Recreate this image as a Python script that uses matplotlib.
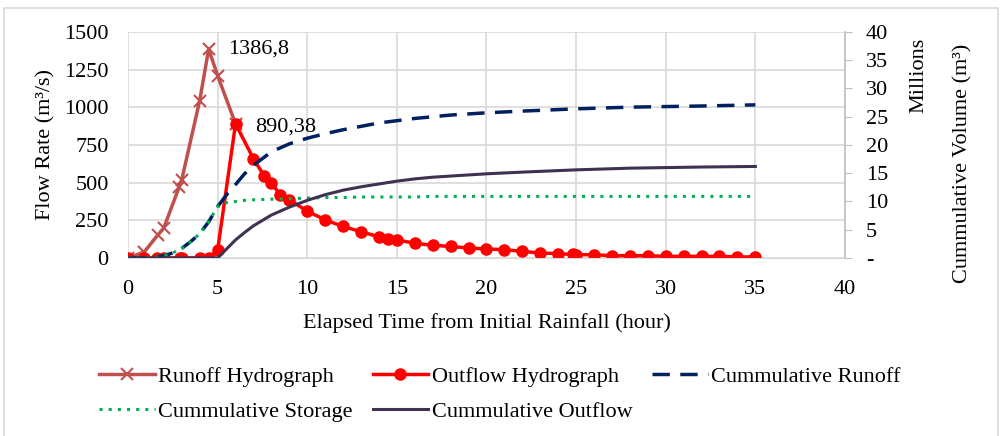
import matplotlib
matplotlib.use("Agg")
import matplotlib.pyplot as plt
from matplotlib.patches import Rectangle

plt.rcParams['font.family'] = ['Liberation Serif', 'DejaVu Serif']

# runoff hydrograph (m3/s)
run_t = [0, 0.9, 1.65, 2.0, 2.85, 3.0, 4.0, 4.5, 5.0, 6.0]
run_q = [0, 40, 150, 200, 470, 520, 1045, 1386.8, 1210, 890.38]

# outflow hydrograph (m3/s)
out_t = [0, 0.9, 1.6, 2.0, 2.9, 3.0, 4.0, 4.5, 5.0, 6.0, 7.0, 7.6, 8.0, 8.5, 9.0,
         10, 11, 12, 13, 14, 14.5, 15, 16, 17, 18, 19, 20, 21, 22, 23, 24, 24.8, 25,
         26, 27, 28, 29, 30, 31, 32, 33, 34, 35]
out_q = [0, 0, 0, 0, 0, 0, 0, 0, 53, 890.38, 658, 545, 497, 419, 386,
         311, 253, 209, 175, 140, 128, 120, 98, 84, 77, 66, 60, 55, 44, 33, 29, 24, 22,
         22, 15, 15, 15, 11, 11, 11, 11, 7, 7]

# cumulative volumes (millions m3)
cum_t = [0, 1, 1.5, 2, 2.5, 3, 3.5, 4, 4.5, 5, 5.5, 6, 6.5, 7, 8, 9, 10, 11, 12, 13,
         14, 15, 16, 17, 18, 19, 20, 22, 25, 28, 30, 32, 35]
cum_runoff = [0, 0, 0.1, 0.4, 0.9, 1.7, 2.9, 4.3, 6.4, 9.1, 11.2, 13.0, 14.9, 16.4,
              18.8, 20.2, 21.2, 22.0, 22.7, 23.3, 23.9, 24.3, 24.7, 25.0, 25.3, 25.5,
              25.7, 26.0, 26.4, 26.7, 26.8, 26.9, 27.1]
cum_storage = [0, 0, 0.1, 0.4, 0.9, 1.7, 2.9, 4.3, 6.4, 9.1, 9.8, 10.0, 10.2, 10.3,
               10.4, 10.5, 10.6, 10.7, 10.7, 10.8, 10.8, 10.8, 10.8, 10.9, 10.9, 10.9,
               10.9, 10.9, 10.9, 10.9, 10.9, 10.9, 10.9]
cum_outflow = [0, 0, 0, 0, 0, 0, 0, 0, 0, 0, 1.6, 3.2, 4.5, 5.7, 7.6, 9.0, 10.2, 11.2,
               12.0, 12.6, 13.1, 13.6, 14.0, 14.3, 14.5, 14.7, 14.9, 15.2, 15.6, 15.9,
               16.0, 16.1, 16.2]

fig = plt.figure(figsize=(10.04, 4.36), dpi=100)
ax = fig.add_axes([0.1275, 0.4083, 0.7141, 0.5183])
ax2 = ax.twinx()

grid_col = "#d9d9d9"
fs = 16

h1, = ax.plot(run_t, run_q, color="#c0504d", lw=2.5, marker="x", ms=8, mew=1.5,
              label="Runoff Hydrograph")
h2, = ax.plot(out_t, out_q, color="#ff0000", lw=2.5, marker="o", ms=8,
              label="Outflow Hydrograph")
h3, = ax2.plot(cum_t, cum_runoff, color="#002060", lw=2.5, ls=(0, (5, 3)),
               label="Cummulative Runoff")
h4, = ax2.plot(cum_t, cum_storage, color="#00b050", lw=2.2, ls=(0, (1, 2)),
               label="Cummulative Storage")
h5, = ax2.plot(cum_t, cum_outflow, color="#3f3151", lw=2.2,
               label="Cummulative Outflow")

ax.annotate("1386,8", xy=(4.5, 1386.8), xytext=(14, 0), textcoords="offset points",
            ha="left", va="center", fontsize=fs)
ax.annotate("890,38", xy=(6.0, 890.38), xytext=(14, -2), textcoords="offset points",
            ha="left", va="center", fontsize=fs)

ax.set_xlim(0, 40)
ax.set_ylim(0, 1500)
ax.set_xticks(range(0, 41, 5))
ax.set_yticks(range(0, 1501, 250))
ax2.set_ylim(0, 40)
ax2.set_yticks(range(0, 41, 5))
ax2.set_yticklabels(["-"] + [str(v) for v in range(5, 41, 5)])

ax.grid(True, color=grid_col, lw=1.2)
ax.set_axisbelow(True)
for s in ["top", "left", "right"]:
    ax.spines[s].set_visible(False)
    ax2.spines[s].set_visible(False)
ax.spines["bottom"].set_color(grid_col)
ax2.spines["bottom"].set_visible(False)
ax2.spines["right"].set_visible(True)
ax2.spines["right"].set_color("#bfbfbf")
ax2.spines["right"].set_linewidth(1.2)

ax.tick_params(axis="both", length=0, labelsize=fs)
ax.tick_params(axis="x", pad=16)
ax.tick_params(axis="y", pad=14)
ax2.tick_params(axis="y", direction="out", length=5, color="#bfbfbf",
                labelsize=fs, pad=10)

ax.set_xlabel("Elapsed Time from Initial Rainfall (hour)", fontsize=fs, labelpad=10)
ax.set_ylabel("Flow Rate (m³/s)", fontsize=fs, labelpad=6)
fig.text(0.915, 0.828, "Millions", rotation=90, ha="center", va="center", fontsize=fs)
fig.text(0.959, 0.626, "Cummulative Volume (m³)", rotation=90, ha="center",
         va="center", fontsize=fs)

handles = [h1, h4, h2, h5, h3]
fig.legend(handles, [h.get_label() for h in handles], loc="center",
           bbox_to_anchor=(0.498, 0.096), ncol=3, frameon=False, fontsize=fs,
           handlelength=2.5, handletextpad=0.15, columnspacing=0.9,
           labelspacing=0.65)

fig.patches.append(Rectangle((0.004, -0.02), 0.99, 1.002, transform=fig.transFigure,
                             fill=False, edgecolor=grid_col, lw=1.2))

fig.savefig("out.png", dpi=100)
